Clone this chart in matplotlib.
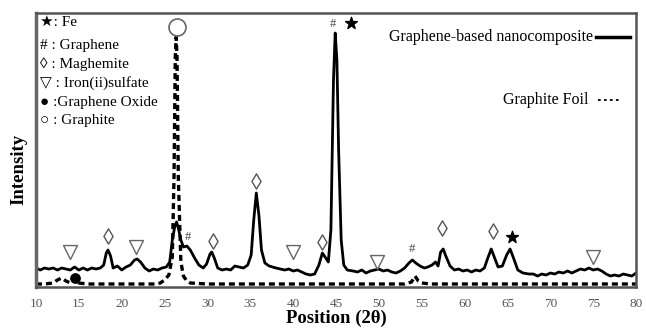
import matplotlib
matplotlib.use("Agg")
import matplotlib.pyplot as plt

plt.rcParams['font.family'] = ['Liberation Serif', 'DejaVu Sans']

# Graphene-based nanocomposite trace (2-theta, intensity a.u.)
comp_x = [10.0, 10.5, 11, 11.5, 12, 12.5, 13, 13.5, 14, 14.5, 15, 15.5, 16, 16.5, 17, 17.5,
          17.9, 18.2, 18.4, 18.7, 19.0, 19.5, 20, 20.5, 21, 21.5, 21.8, 22.2, 22.7, 23.2, 23.7,
          24.2, 24.7, 25.2, 25.6, 25.9, 26.2, 26.4, 26.6, 26.9, 27.2, 27.6, 28.0, 28.5, 29.0,
          29.5, 29.9, 30.3, 30.5, 30.8, 31.2, 31.7, 32.2, 32.7, 33.2, 33.7, 34.2, 34.7, 35.1,
          35.4, 35.7, 36.0, 36.3, 36.7, 37.2, 38, 39, 39.5, 40, 40.5, 41, 41.5, 42, 42.5, 43,
          43.4, 43.8, 44.1, 44.4, 44.7, 44.9, 45.1, 45.3, 45.6, 45.9, 46.3, 47, 47.5, 48, 48.5,
          49, 49.5, 50, 50.5, 51, 51.5, 52, 52.5, 53, 53.5, 53.9, 54.3, 54.8, 55.3, 55.7, 56.2,
          56.6, 56.9, 57.2, 57.5, 57.8, 58.3, 58.8, 59.3, 59.8, 60.3, 60.8, 61.3, 61.8, 62.3,
          62.7, 63.1, 63.5, 63.9, 64.4, 64.9, 65.3, 65.7, 66.2, 66.8, 67.5, 68, 68.5, 69, 69.5,
          70, 70.5, 71, 71.5, 72, 72.5, 73, 73.5, 74, 74.5, 75, 75.5, 76, 76.5, 77, 77.5, 78,
          78.5, 79, 79.5, 80]
comp_y = [19, 17, 19, 18, 19, 17, 19, 18, 17, 20, 17, 19, 17, 19, 18, 19,
          22, 34, 37, 31, 19, 21, 17, 20, 22, 27, 28, 25, 19, 16, 18,
          17, 19, 20, 25, 47, 61, 65, 59, 47, 40, 41, 37, 29, 22,
          19, 23, 33, 35, 29, 19, 17, 18, 17, 21, 20, 19, 22, 32,
          67, 94, 72, 37, 24, 21, 19, 17, 18, 16, 17, 15, 13, 12, 13, 22,
          34, 29, 25, 57, 207, 254, 227, 137, 47, 22, 17, 16, 15, 17, 14,
          16, 17, 18, 16, 17, 15, 14, 16, 19, 24, 27, 24, 21, 19, 20, 22,
          25, 21, 35, 38, 31, 21, 17, 18, 16, 17, 15, 17, 16, 19,
          29, 38, 29, 20, 21, 32, 38, 29, 17, 14, 13, 13, 11, 13, 12,
          14, 13, 15, 14, 16, 14, 16, 18, 17, 19, 17, 18, 16, 13, 11, 12, 11,
          13, 12, 11, 14]

# Graphite foil trace
foil_x = [10, 11, 12, 12.5, 13, 13.5, 14, 14.5, 15, 16, 18, 20, 22, 24, 24.5, 25.0, 25.5,
          25.9, 26.1, 26.25, 26.35, 26.45, 26.6, 26.9, 27.2, 27.6, 28, 30, 35, 40, 45, 50, 53,
          53.8, 54.2, 54.6, 55, 56, 60, 65, 70, 75, 80]
foil_y = [3, 3, 4, 7, 9, 6, 4, 9, 4, 3, 3, 3, 3, 3, 4, 7, 12,
          30, 110, 230, 250, 230, 110, 25, 11, 6, 4, 3, 3, 3, 3, 3, 3,
          5, 11, 6, 4, 3, 3, 3, 3, 3, 3]

# phase markers
fe_x, fe_y = [46.7, 65.5], [264, 50]
graphene_x, graphene_y = [44.6, 27.7, 53.9], [263, 50, 38]
magh_x, magh_y = [18.4, 30.6, 35.7, 43.4, 57.4, 63.3], [51, 46, 106, 45, 59, 56]
feso_x, feso_y = [14.0, 21.7, 40.0, 49.8, 75.0], [35, 40, 35, 25, 30]
go_x, go_y = [14.5], [9]
graphite_x, graphite_y = [26.4], [260]

legend_labels = ["\u2605: Fe", "# : Graphene", "\u25ca : Maghemite", "\u25bd : Iron(ii)sulfate",
                 "\u25cf :Graphene Oxide", "\u25cb : Graphite"]
legend_pos = [0.967, 0.883, 0.814, 0.745, 0.672, 0.606]

fig = plt.figure(figsize=(6.46, 3.34), dpi=100)
ax = fig.add_axes([0.0557, 0.1407, 0.929, 0.8203])

ax.plot(foil_x, foil_y, color='black', lw=2.4, ls=(0, (1.8, 1.2)))
ax.plot(comp_x, comp_y, color='black', lw=2.0)

ax.scatter(fe_x, fe_y, marker='*', s=80, color='black', zorder=5)
for gx, gy in zip(graphene_x, graphene_y):
    ax.text(gx, gy, '#', ha='center', va='center', fontsize=9, color='#444444')
ax.scatter(magh_x, magh_y, marker='d', s=60, facecolor='white', edgecolor='#555555', lw=1.0, zorder=5)
ax.scatter(feso_x, feso_y, marker='v', s=100, facecolor='white', edgecolor='#666666', lw=1.0, zorder=5)
ax.scatter(go_x, go_y, marker='o', s=45, color='black', zorder=5)
ax.scatter(graphite_x, graphite_y, marker='o', s=150, facecolor='white', edgecolor='#666666', lw=1.2, zorder=5)

# phase legend in top left
for lbl, yy in zip(legend_labels, legend_pos):
    ax.text(0.006, yy, lbl, transform=ax.transAxes, fontsize=11, va='center', ha='left')

# series key on right
ax.text(0.928, 0.912, "Graphene-based nanocomposite", transform=ax.transAxes, fontsize=11.5,
        ha='right', va='center')
ax.plot([0.933, 0.99], [0.912, 0.912], transform=ax.transAxes, color='black', lw=2.5)
ax.text(0.92, 0.682, "Graphite Foil", transform=ax.transAxes, fontsize=11.5, ha='right', va='center')
ax.plot([0.937, 0.975], [0.682, 0.682], transform=ax.transAxes, color='black', lw=1.3, ls=(0, (1.5, 1.8)))

ax.set_xlim(10, 80)
ax.set_ylim(0, 274)
ax.set_xticks(range(10, 81, 5))
ax.set_yticks([])
ax.tick_params(axis='x', length=0, pad=8, labelsize=9.5, labelcolor='#555555')

for s in ax.spines.values():
    s.set_color('#555555')
    s.set_linewidth(1.8)
ax.spines['left'].set_color('#666666')
ax.spines['left'].set_linewidth(2.5)

ax.set_xlabel("Position (2\u03b8)", fontsize=13.5, fontweight='bold', labelpad=0)
ax.set_ylabel("Intensity", fontsize=13.5, fontweight='bold')
ax.yaxis.set_label_coords(-0.014, 0.43)

fig.savefig("out.png", dpi=100)
